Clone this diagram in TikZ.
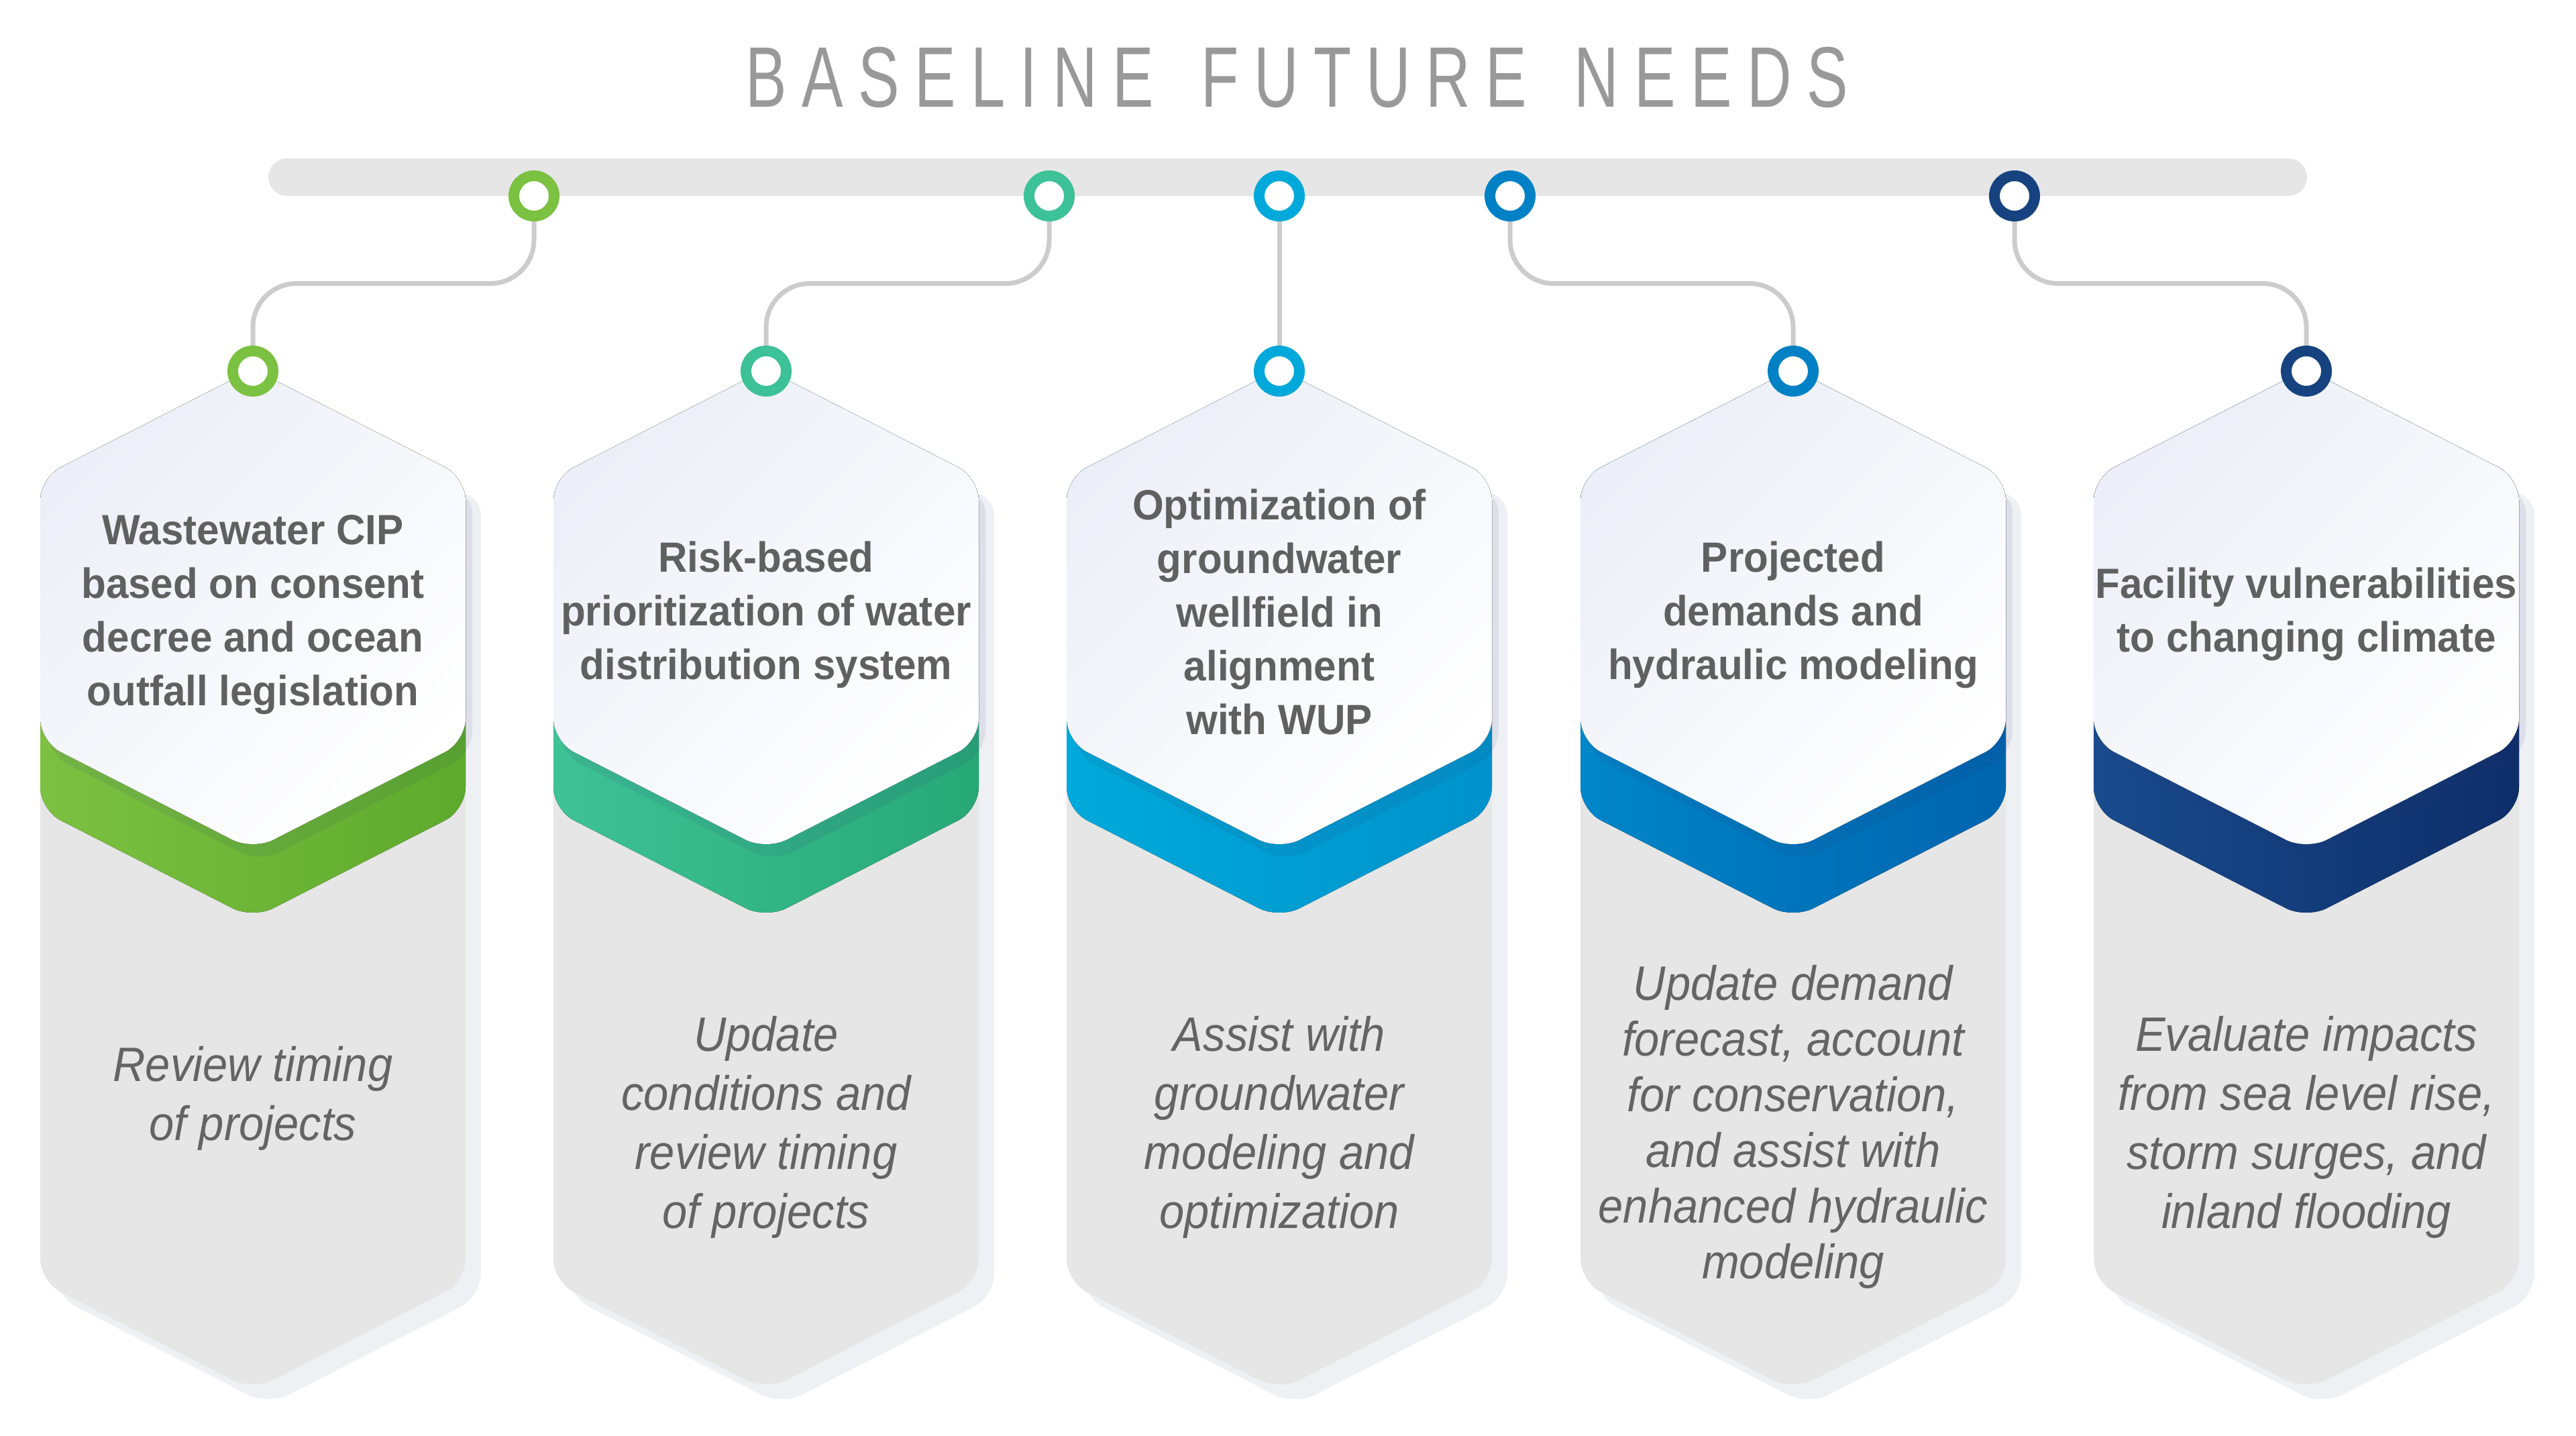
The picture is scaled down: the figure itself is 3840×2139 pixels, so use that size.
\documentclass[tikz,border=0pt]{standalone}
\usepackage{fontspec}
\setmainfont{Liberation Sans}
\newfontfamily\headfont{Liberation Sans}[FakeStretch=0.955]
\newfontfamily\bodyfont{Liberation Sans}[FakeStretch=0.93]
\newfontfamily\titlefont{Liberation Sans}[FakeStretch=0.72]
\usetikzlibrary{calc}
\pgfdeclarelayer{bg}
\pgfsetlayers{bg,main}

\definecolor{txt}{HTML}{606060}
\definecolor{bodytxt}{HTML}{646464}
\definecolor{titlec}{HTML}{999999}
\definecolor{barc}{HTML}{E6E6E6}
\definecolor{bodyc}{HTML}{E6E6E6}
\definecolor{shad}{HTML}{EFF0F4}
\definecolor{connc}{HTML}{CCCCCC}
\definecolor{capA}{HTML}{ECEFF7}
\definecolor{capshade}{HTML}{283770}

\definecolor{ringA}{HTML}{7BC142}
\definecolor{bandAL}{HTML}{7DC142}
\definecolor{bandAR}{HTML}{5DAA2C}
\definecolor{ringB}{HTML}{3DC196}
\definecolor{bandBL}{HTML}{3EC296}
\definecolor{bandBR}{HTML}{27A877}
\definecolor{ringC}{HTML}{00A9DA}
\definecolor{bandCL}{HTML}{00AADB}
\definecolor{bandCR}{HTML}{0092CB}
\definecolor{ringD}{HTML}{0081C5}
\definecolor{bandDL}{HTML}{0086C9}
\definecolor{bandDR}{HTML}{0064AE}
\definecolor{ringE}{HTML}{16437F}
\definecolor{bandEL}{HTML}{194B8D}
\definecolor{bandER}{HTML}{0E2E69}

\newcommand\tkern{\kern22.5pt}

\newcommand\drawcol[5]{%
\begin{scope}[shift={(#1,0)}]
\fill[shad, rounded corners=34] (-294,900) -- (-294,734) -- (340,734) -- (340,1932) -- (23,2094) -- (-294,1932) -- cycle;
\fill[bodyc, rounded corners=34] (-317,900) -- (-317,712) -- (0,550) -- (317,712) -- (317,1910) -- (0,2072) -- (-317,1910) -- cycle;
\fill[left color=#3, right color=#4, rounded corners=34] (-317,900) -- (-317,712) -- (0,550) -- (317,712) -- (317,1207) -- (0,1369) -- (-317,1207) -- cycle;
\fill[capshade, opacity=0.09, rounded corners=34] (-307,900) -- (-307,730) -- (327,730) -- (327,1123) -- (10,1285) -- (-307,1123) -- cycle;
\fill[top color=capA, bottom color=white, shading angle=45, rounded corners=34] (-317,900) -- (-317,712) -- (0,550) -- (317,712) -- (317,1105) -- (0,1267) -- (-317,1105) -- cycle;
\node[ring=#2] (b#5) at (0,553) {};
\end{scope}}

\begin{document}
\begin{tikzpicture}[x=1pt,y=-1pt,
  ring/.style={circle, draw=#1, line width=16pt, fill=white, minimum size=60pt, inner sep=0pt},
  connline/.style={draw=connc, line width=7pt, rounded corners=65pt},
  head/.style={font=\headfont\bfseries\fontsize{63}{80}\selectfont, text=txt, align=center, inner sep=0pt, anchor=north},
  bodytext/.style={font=\bodyfont\itshape\fontsize{72}{88}\selectfont, text=bodytxt, align=center, inner sep=0pt, anchor=north},
  bodytight/.style={bodytext, font=\bodyfont\itshape\fontsize{72}{83}\selectfont},
  titletext/.style={font=\titlefont\fontsize{128}{128}\selectfont, text=titlec, inner sep=0pt, anchor=base}]

\begin{pgfonlayer}{bg}
\fill[white] (0,0) rectangle (3840,2139);
\end{pgfonlayer}
\useasboundingbox (0,0) rectangle (3840,2139);

% title
\node[titletext] (title) at (1933,159) {B\tkern A\tkern S\tkern E\tkern L\tkern I\tkern N\tkern E\tkern{} \tkern F\tkern U\tkern T\tkern U\tkern R\tkern E\tkern{} \tkern N\tkern E\tkern E\tkern D\tkern S};

% timeline bar
\fill[barc, rounded corners=28] (400,236) rectangle (3439,292);

% columns
\drawcol{377}{ringA}{bandAL}{bandAR}{1}
\drawcol{1142}{ringB}{bandBL}{bandBR}{2}
\drawcol{1907}{ringC}{bandCL}{bandCR}{3}
\drawcol{2673}{ringD}{bandDL}{bandDR}{4}
\drawcol{3438}{ringE}{bandEL}{bandER}{5}

% top circles
\node[ring=ringA] (t1) at (796,292) {};
\node[ring=ringB] (t2) at (1564,292) {};
\node[ring=ringC] (t3) at (1907,292) {};
\node[ring=ringD] (t4) at (2251,292) {};
\node[ring=ringE] (t5) at (3003,292) {};

% headings
\node[head] (h1) at (377,767) {Wastewater CIP\\based on consent\\decree and ocean\\outfall legislation};
\node[head] (h2) at (1142,807) {Risk-based\\prioritization of water\\distribution system};
\node[head] (h3) at (1907,729) {Optimization of\\groundwater\\wellfield in\\alignment\\with WUP};
\node[head] (h4) at (2673,807) {Projected\\demands and\\hydraulic modeling};
\node[head] (h5) at (3438,846) {Facility vulnerabilities\\to changing climate};

% descriptions
\node[bodytext] (d1) at (377,1559) {Review timing\\of projects};
\node[bodytext] (d2) at (1142,1514) {Update\\conditions and\\review timing\\of projects};
\node[bodytext] (d3) at (1907,1514) {Assist with\\groundwater\\modeling and\\optimization};
\node[bodytight] (d4) at (2673,1438) {Update demand\\forecast, account\\for conservation,\\and assist with\\enhanced hydraulic\\modeling};
\node[bodytext] (d5) at (3438,1514) {Evaluate impacts\\from sea level rise,\\storm surges, and\\inland flooding};

% connectors
\begin{pgfonlayer}{bg}
\draw[connline] (t1.center) |- ($(t1.center)!0.5!(b1.center)$) -| (b1.center);
\draw[connline] (t2.center) |- ($(t2.center)!0.5!(b2.center)$) -| (b2.center);
\draw[connline] (t3.center) -- (b3.center);
\draw[connline] (t4.center) |- ($(t4.center)!0.5!(b4.center)$) -| (b4.center);
\draw[connline] (t5.center) |- ($(t5.center)!0.5!(b5.center)$) -| (b5.center);
\end{pgfonlayer}
\end{tikzpicture}
\end{document}
